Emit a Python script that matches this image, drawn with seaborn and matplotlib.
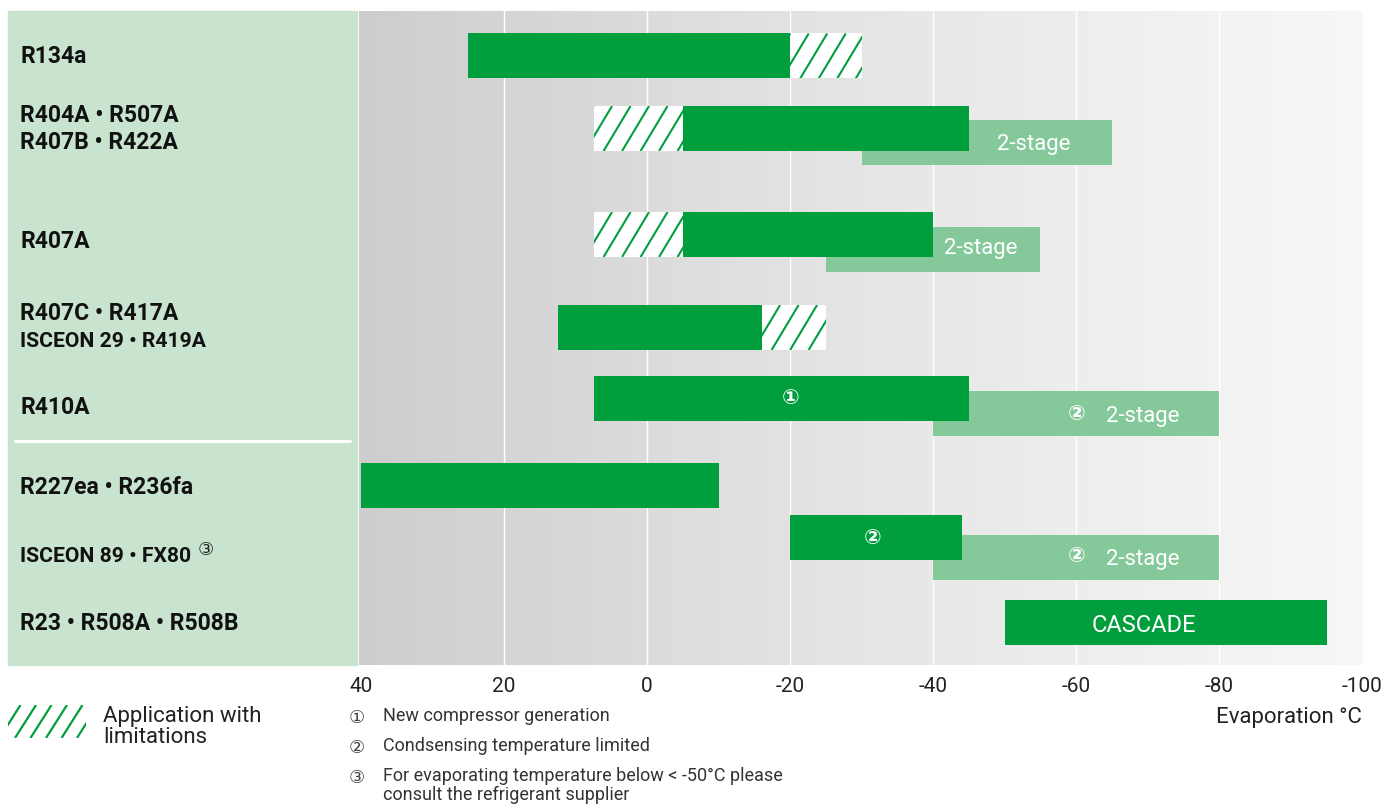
import numpy as np
import pandas as pd
import matplotlib
matplotlib.use('Agg')
import matplotlib.pyplot as plt
import matplotlib.transforms as mtransforms
from matplotlib.colors import LinearSegmentedColormap
from matplotlib.patches import Rectangle
import seaborn as sns

# Application ranges of the refrigerants (evaporation temperature, deg C)
refrigerants = ['R134a', 'R404A • R507A\nR407B • R422A', 'R407A',
                'R407C • R417A\nISCEON 29 • R419A', 'R410A',
                'R227ea • R236fa', 'ISCEON 89 • FX80', 'R23 • R508A • R508B']
solid_from = [25, -5, -5, 12.5, 7.5, 40, -20, -50]
solid_to = [-20, -45, -40, -16, -45, -10, -44, -95]
limited_from = [-20, 7.5, 7.5, -16, np.nan, np.nan, np.nan, np.nan]
limited_to = [-30, -5, -5, -25, np.nan, np.nan, np.nan, np.nan]
stage2_from = [np.nan, -30, -25, np.nan, -40, np.nan, -40, np.nan]
stage2_to = [np.nan, -65, -55, np.nan, -80, np.nan, -80, np.nan]

ticks = [40, 20, 0, -20, -40, -60, -80, -100]
tick_labels = ['40', '20', '0', '-20', '-40', '-60', '-80', '-100']

footnotes = ['New compressor generation',
             'Condsensing temperature limited',
             'For evaporating temperature below < -50°C please\nconsult the refrigerant supplier']

df = pd.DataFrame({'name': refrigerants,
                   'solid_from': solid_from, 'solid_to': solid_to,
                   'lim_from': limited_from, 'lim_to': limited_to,
                   'st2_from': stage2_from, 'st2_to': stage2_to})

# layout (pixel rows measured from the top of the plot area)
row_y = [45, 117.5, 223.5, 316.5, 388, 474, 526, 611.5]
st2_shift = [0, 14.5, 14.5, 0, 15, 0, 20, 0]
label_y = [46, 118, 231, 316.5, 396, 476, 546, 613]
line_gap = 27.5
bar_h = 45

GREEN = '#009e3d'
LIGHT = '#85c99b'
PANEL = '#c8e4cf'

sns.set_theme(style='white')
plt.rcParams['font.family'] = ['Roboto', 'DejaVu Sans']
plt.rcParams['axes.unicode_minus'] = False

W, H = 1388, 808
fig = plt.figure(figsize=(W / 100, H / 100), dpi=100)

def fx(p):
    return p / W

def fy(p):
    return 1 - p / H

top, bottom, left, right = 11, 665, 359, 1363
ax = fig.add_axes([fx(left), fy(bottom), fx(right - left), (bottom - top) / H])
xlim = (40.3, -100.1)
px_per_deg = (right - left) / (xlim[0] - xlim[1])

# green label panel
fig.add_artist(Rectangle((fx(8), fy(bottom)), fx(349), (bottom - top) / H,
                         transform=fig.transFigure, color=PANEL, zorder=0))
fig.add_artist(plt.Line2D([fx(15), fx(350)], [fy(441), fy(441)],
                          transform=fig.transFigure, color='white', lw=2.2))

# background gradient
grad = LinearSegmentedColormap.from_list('bg', ['#cdcdcd', '#dedede', '#ececec', '#f7f7f7'])
ax.imshow(np.linspace(0, 1, 256).reshape(1, -1), cmap=grad, aspect='auto',
          extent=[xlim[0], xlim[1], bottom - top, 0], zorder=0)
for t in ticks[1:-1]:
    ax.axvline(t, color='white', lw=1.0, zorder=1)


def stripes(ax, patch, x_hi, x_lo, yc, h, step_px=18.5, slant_px=27):
    # diagonal green stripes clipped to a bar
    step = step_px / px_per_deg
    off = slant_px / px_per_deg
    xs = x_hi + off
    while xs > x_lo - 0.01:
        ln, = ax.plot([xs, xs - off], [yc + h / 2, yc - h / 2], color=GREEN,
                      lw=1.5, zorder=4, solid_capstyle='butt')
        ln.set_clip_path(patch)
        xs -= step


for i, r in df.iterrows():
    y = row_y[i]
    if not np.isnan(r.st2_from):
        ax.barh(y + st2_shift[i], r.st2_to - r.st2_from, left=r.st2_from,
                height=bar_h, color=LIGHT, lw=0, zorder=2)
    ax.barh(y, r.solid_to - r.solid_from, left=r.solid_from, height=bar_h,
            color=GREEN, lw=0, zorder=3)
    if not np.isnan(r.lim_from):
        bars = ax.barh(y, r.lim_to - r.lim_from, left=r.lim_from, height=bar_h,
                       color='white', lw=0, zorder=3)
        stripes(ax, bars.patches[0], r.lim_from, r.lim_to, y, bar_h)

# texts inside the bars
txt = dict(color='white', va='center', ha='center', zorder=5)
ax.text(-54, row_y[1] + st2_shift[1] + 2, '2-stage', fontsize=16, **txt)
ax.text(-46.7, row_y[2] + st2_shift[2] - 0.5, '2-stage', fontsize=16, **txt)
ax.text(-20, row_y[4], '①', fontsize=15, fontweight='bold', **txt)
for i in (4, 6):
    ax.text(-60, row_y[i] + st2_shift[i], '②', fontsize=15, fontweight='bold', **txt)
    ax.text(-69.3, row_y[i] + st2_shift[i] + 2.5, '2-stage', fontsize=16, **txt)
ax.text(-31.5, row_y[6] + 1, '②', fontsize=15, fontweight='bold', **txt)
ax.text(-69.4, row_y[7] + 3, 'CASCADE', fontsize=17, **txt)

ax.set_xlim(*xlim)
ax.set_ylim(bottom - top, 0)
ax.set_xticks(ticks)
ax.set_xticklabels(tick_labels, fontsize=15, color='#222222')
ax.set_yticks([])
ax.tick_params(axis='x', length=0, pad=9)
sns.despine(ax=ax, left=True, bottom=True)

# refrigerant labels on the green panel (ISCEON names set a little tighter)
trans = mtransforms.blended_transform_factory(fig.transFigure, ax.transData)
for i, name in enumerate(refrigerants):
    lines = name.split('\n')
    y0 = label_y[i] - line_gap * (len(lines) - 1) / 2
    for k, line in enumerate(lines):
        fsz = 15.2 if line.startswith('ISCEON') else 16.5
        ax.text(fx(20), y0 + k * line_gap, line, transform=trans, fontsize=fsz,
                fontweight='bold', color='#111111', va='center', ha='left')
fig.text(fx(198), fy(550), '③', fontsize=13, color='#222222', va='center',
         ha='left')

# legend for hatched area
lax = fig.add_axes([fx(8), fy(738), fx(78), 33 / H])
lax.set_xlim(0, 78)
lax.set_ylim(0, 33)
lax.axis('off')
for x0 in np.arange(-24, 78, 15.5):
    lax.plot([x0, x0 + 21], [0, 33], color=GREEN, lw=1.6, solid_capstyle='butt')
fig.text(fx(103), fy(706), 'Application with\nlimitations', fontsize=16,
         color='#222222', va='top', ha='left', linespacing=1.03)

fig.text(fx(1362), fy(718), 'Evaporation °C', fontsize=16, color='#222222',
         va='center', ha='right')

# footnotes
note_y = [717, 747, 777]
for k, (mark, note) in enumerate(zip(['①', '②', '③'], footnotes)):
    fig.text(fx(357), fy(note_y[k] + 1), mark, fontsize=13, color='#444444',
             va='center', ha='center')
    fig.text(fx(383), fy(note_y[k] - 10), note, fontsize=13, color='#333333',
             va='top', ha='left', linespacing=1.05)

fig.savefig('out.png', dpi=100)
